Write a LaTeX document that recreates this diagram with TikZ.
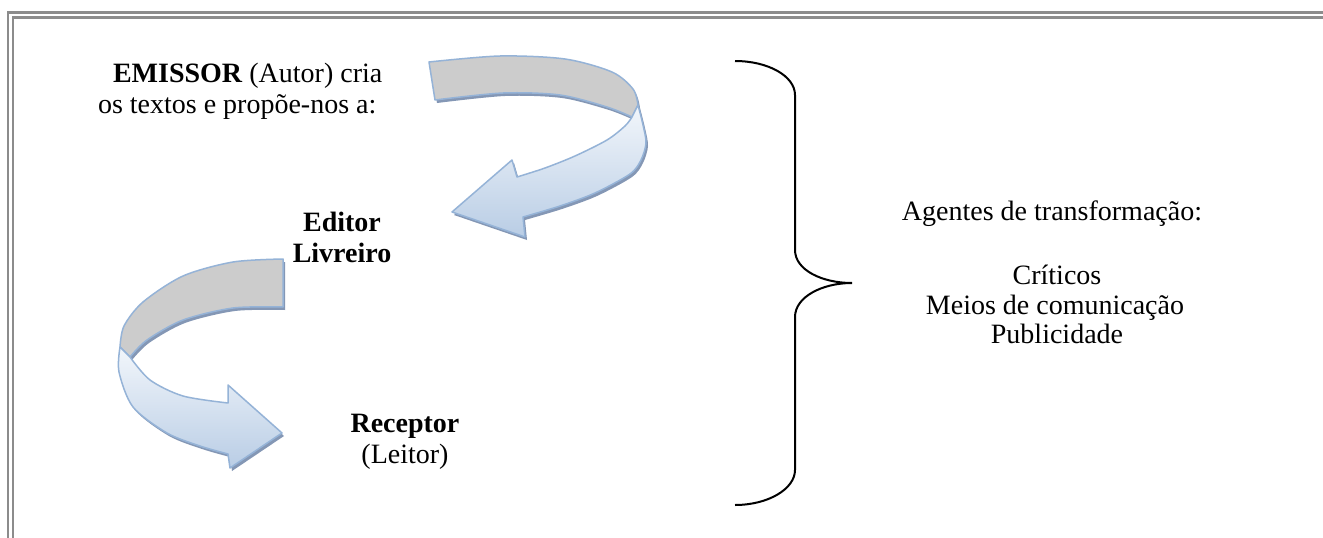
\documentclass[tikz,border=0pt]{standalone}
\usepackage{fontspec}
\setmainfont{Liberation Serif}
\definecolor{framegray}{RGB}{140,140,140}
\definecolor{bandgray}{RGB}{204,204,204}
\definecolor{edgeblue}{RGB}{149,179,215}
\definecolor{shadowblue}{RGB}{132,151,181}
\definecolor{lighttop}{RGB}{242,246,251}
\definecolor{lightbottom}{RGB}{185,205,229}
\tikzset{
  frameline/.style={draw=framegray, line width=2.5pt, line join=miter},
  bracket/.style={draw=black, line width=2pt},
  ribbonshadow/.style={fill=shadowblue},
  ribbonback/.style={fill=bandgray, draw=edgeblue, line width=1.5pt, line join=round},
  ribbonfront/.style={top color=lighttop, bottom color=lightbottom, draw=edgeblue, line width=1.5pt, line join=round},
  lbl/.style={inner sep=0pt, outer sep=0pt, font=\fontsize{28}{31}\selectfont},
  lblb/.style={inner sep=0pt, outer sep=0pt, font=\fontsize{28}{31}\selectfont\bfseries}
}
\def\topback{plot[smooth] coordinates {(429,62) (500,56) (565,59) (612,72) (633,89) (638,105)} -- plot[smooth] coordinates {(632,117) (607,107) (560,95) (503,93) (435,100)} -- cycle}
\def\topfront{plot[smooth] coordinates {(638,105) (643,125) (646,143) (641,160) (630,174) (595,193) (560,206) (523,217)} -- (525,237) -- (452,212) -- (512,160) -- plot[smooth] coordinates {(517,177) (545,168) (575,156) (607,140) (625,126) (632,117)} -- cycle}
\def\lowback{plot[smooth] coordinates {(283,259) (233,262) (183,276) (143,302) (124,326) (120,347)} -- plot[smooth] coordinates {(130,357) (147,340) (183,320) (233,308) (283,307)} -- cycle}
\def\lowfront{plot[smooth] coordinates {(120,347) (119,372) (133,407) (167,433) (200,446) (228,454)} -- (230,468) -- (282,433) -- (228,385) -- plot[smooth] coordinates {(228,403) (183,396) (150,380) (130,357)} -- cycle}
\begin{document}
\begin{tikzpicture}[x=1pt, y=-1pt]
\useasboundingbox[fill=white] (0,0) rectangle (1323,538);
% page border
\draw[frameline] (8,545) -- (8,12.5) -- (1330,12.5);
\draw[frameline] (13,545) -- (13,17.5) -- (1330,17.5);
% shadows
\fill[ribbonshadow, shift={(2,3)}] \topback;
\fill[ribbonshadow, shift={(2,3)}] \topfront;
\fill[ribbonshadow, shift={(2,3)}] \lowback;
\fill[ribbonshadow, shift={(2,3)}] \lowfront;
% ribbons
\path[ribbonback] \topback;
\path[ribbonfront] \topfront;
\path[ribbonback] \lowback;
\path[ribbonfront] \lowfront;
% brace
\coordinate (btop) at (735,61);
\coordinate (btip) at (852,283);
\coordinate (bbot) at (735,505);
\draw[bracket] (btop) .. controls (768,61) and (795,76) .. (795,95) -- (795,250)
  .. controls (795,270) and (822,283) .. (btip)
  .. controls (822,283) and (795,297) .. (795,317) -- (795,470)
  .. controls (795,489) and (768,505) .. (bbot);
% texts
\node[lbl, anchor=base west] (emissor) at (113,82) {\textbf{EMISSOR} (Autor) cria};
\node[lbl, anchor=base west] (textos) at (98,113) {os textos e propõe-nos a:};
\node[lblb, anchor=base] (editor) at (342,231) {Editor};
\node[lblb, anchor=base] (livreiro) at (342,262) {Livreiro};
\node[lblb, anchor=base] (receptor) at (405,432) {Receptor};
\node[lbl, anchor=base] (leitor) at (405,463) {(Leitor)};
\node[lbl, anchor=base] (agentes) at (1052,220) {Agentes de transformação:};
\node[lbl, anchor=base] (criticos) at (1057,284) {Críticos};
\node[lbl, anchor=base] (meios) at (1055,314) {Meios de comunicação};
\node[lbl, anchor=base] (public) at (1057,343) {Publicidade};
\end{tikzpicture}
\end{document}
